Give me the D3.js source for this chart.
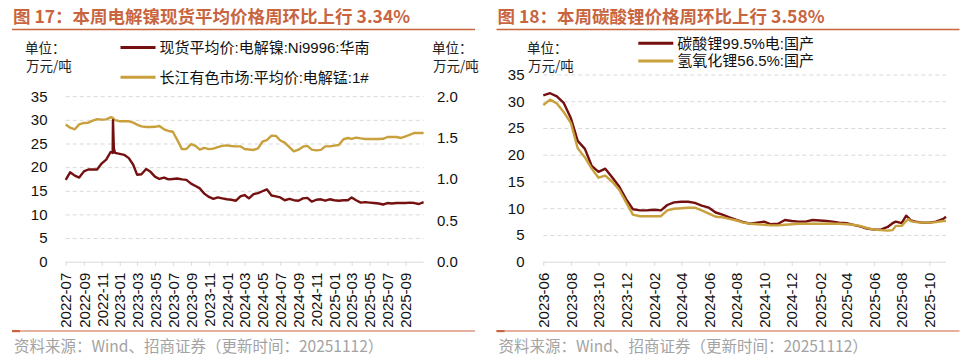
<!DOCTYPE html>
<html>
<head>
<meta charset="utf-8">
<script src="https://cdn.jsdelivr.net/npm/d3@7"></script>
<style>
  body { margin: 0; background: #fff; }
  svg text { font-family: "Liberation Sans", Arial, "Noto Sans CJK SC", sans-serif; }
  svg .cjk { font-family: "Noto Sans CJK SC", "Liberation Sans", sans-serif; }
</style>
</head>
<body>
<svg id="chart" width="970" height="363"></svg>
<script>
// ---- figure 17: nickel (left axis) and manganese (right axis)
const niDates = [
  "2022-07-01","2022-07-16","2022-08-01","2022-08-16","2022-09-01","2022-09-16","2022-10-01","2022-10-16",
  "2022-11-01","2022-11-16","2022-12-01","2022-12-08","2022-12-09","2022-12-12","2022-12-16",
  "2023-01-01","2023-01-16","2023-02-01","2023-02-16","2023-03-01","2023-03-16","2023-04-01","2023-04-16",
  "2023-05-01","2023-05-16","2023-06-01","2023-06-16","2023-07-01","2023-07-16","2023-08-01","2023-08-16",
  "2023-09-01","2023-09-16","2023-10-01","2023-10-16","2023-11-01","2023-11-16","2023-12-01","2023-12-16",
  "2024-01-01","2024-01-16","2024-02-01","2024-02-16","2024-03-01","2024-03-16","2024-04-01","2024-04-16",
  "2024-05-01","2024-05-16","2024-06-01","2024-06-16","2024-07-01","2024-07-16","2024-08-01","2024-08-16",
  "2024-09-01","2024-09-16","2024-10-01","2024-10-16","2024-11-01","2024-11-16","2024-12-01","2024-12-16",
  "2025-01-01","2025-01-16","2025-02-01","2025-02-16","2025-03-01","2025-03-16","2025-04-01","2025-04-16",
  "2025-05-01","2025-05-16","2025-06-01","2025-06-16","2025-07-01","2025-07-16","2025-08-01","2025-08-16",
  "2025-09-01","2025-09-16","2025-10-01","2025-10-16","2025-11-01"
]
const niValues = [
  17.3, 18.9, 18.2, 17.8, 19.1, 19.5, 19.5, 19.5, 20.8, 21.6, 23.2, 23.0, 29.9, 24.0, 23.0,
  22.8, 22.6, 21.9, 20.5, 18.4, 18.5, 19.6, 19.0, 18.0, 17.5, 17.8, 17.4, 17.5, 17.6, 17.4, 17.3,
  16.5, 16.0, 15.5, 14.4, 13.7, 13.3, 13.6, 13.4, 13.2, 13.1, 12.9, 13.8, 14.1, 13.4, 14.3, 14.5,
  14.9, 15.3, 14.0, 13.8, 13.6, 13.0, 13.3, 13.0, 12.9, 13.4, 13.5, 12.7, 13.1, 13.2, 12.9, 13.2,
  13.0, 12.9, 13.0, 13.0, 13.6, 13.0, 12.5, 12.6, 12.5, 12.4, 12.3, 12.1, 12.4, 12.3, 12.4, 12.4,
  12.4, 12.5, 12.4, 12.2, 12.6
]
const mnValues = [
  1.657, 1.620, 1.600, 1.660, 1.677, 1.680, 1.705, 1.722, 1.717, 1.720, 1.745, 1.740, 1.735, 1.725, 1.710,
  1.697, 1.697, 1.697, 1.680, 1.657, 1.636, 1.628, 1.628, 1.630, 1.640, 1.600, 1.580, 1.570, 1.470, 1.360, 1.362,
  1.420, 1.400, 1.354, 1.375, 1.360, 1.366, 1.385, 1.400, 1.406, 1.398, 1.394, 1.394, 1.362, 1.356, 1.350, 1.370,
  1.450, 1.470, 1.523, 1.520, 1.465, 1.440, 1.385, 1.333, 1.354, 1.390, 1.400, 1.354, 1.345, 1.352, 1.394, 1.394,
  1.402, 1.410, 1.480, 1.495, 1.485, 1.500, 1.490, 1.483, 1.483, 1.483, 1.483, 1.485, 1.507, 1.507, 1.507, 1.495,
  1.515, 1.535, 1.556, 1.556, 1.556
]
const niTicks = ["2022-07","2022-09","2022-11","2023-01","2023-03","2023-05","2023-07","2023-09","2023-11",
  "2024-01","2024-03","2024-05","2024-07","2024-09","2024-11","2025-01","2025-03","2025-05","2025-07","2025-09"]

// ---- figure 18: lithium carbonate and lithium hydroxide
const liDates = [
  "2023-06-01","2023-06-16","2023-07-01","2023-07-16","2023-08-01","2023-08-16","2023-09-01","2023-09-16",
  "2023-10-01","2023-10-16","2023-11-01","2023-11-16","2023-12-01","2023-12-16","2024-01-01","2024-01-16",
  "2024-02-01","2024-02-16","2024-03-01","2024-03-16","2024-04-01","2024-04-16","2024-05-01","2024-05-16",
  "2024-06-01","2024-06-16","2024-07-01","2024-07-16","2024-08-01","2024-08-16","2024-09-01","2024-09-16",
  "2024-10-01","2024-10-16","2024-11-01","2024-11-16","2024-12-01","2024-12-16","2025-01-01","2025-01-16",
  "2025-02-01","2025-02-16","2025-03-01","2025-03-16","2025-04-01","2025-04-16","2025-05-01","2025-05-16",
  "2025-06-01","2025-06-16","2025-07-01","2025-07-12","2025-07-19","2025-08-01","2025-08-11","2025-08-16",
  "2025-08-21","2025-09-01","2025-09-16","2025-10-01","2025-10-16","2025-11-01","2025-11-07"
]
const carbValues = [
  31.1, 31.5, 30.9, 29.7, 26.8, 22.6, 21.1, 17.9, 16.8, 17.4, 15.7, 14.0, 11.7, 9.8, 9.6, 9.6,
  9.7, 9.6, 10.6, 11.1, 11.2, 11.2, 11.0, 10.5, 10.1, 9.2, 8.8, 8.3, 7.8, 7.4, 7.1, 7.3,
  7.5, 7.0, 7.1, 7.8, 7.6, 7.5, 7.5, 7.8, 7.7, 7.6, 7.5, 7.3, 7.2, 6.9, 6.6, 6.2,
  6.0, 6.0, 6.5, 7.2, 7.5, 7.2, 8.6, 8.2, 7.7, 7.5, 7.3, 7.3, 7.5, 8.0, 8.4
]
const hydroValues = [
  29.3, 30.3, 29.6, 28.0, 25.9, 21.2, 19.5, 17.4, 15.7, 16.1, 14.9, 13.4, 11.1, 8.8, 8.5, 8.5,
  8.5, 8.5, 9.6, 9.9, 10.0, 10.1, 10.1, 9.6, 9.0, 8.4, 8.3, 8.0, 7.7, 7.3, 7.1, 7.0,
  6.9, 6.8, 6.8, 6.9, 7.0, 7.1, 7.1, 7.1, 7.1, 7.1, 7.1, 7.1, 7.0, 6.9, 6.7, 6.3,
  6.0, 5.9, 5.8, 5.9, 6.7, 6.7, 7.6, 7.95, 7.6, 7.4, 7.3, 7.3, 7.4, 7.6, 7.6
]
const liTicks = ["2023-06","2023-08","2023-10","2023-12","2024-02","2024-04","2024-06","2024-08",
  "2024-10","2024-12","2025-02","2025-04","2025-06","2025-08","2025-10"]

const leftTicks = [0, 5, 10, 15, 20, 25, 30, 35]
const mnTicks = [0, 0.5, 1.0, 1.5, 2.0]

const RED = "#74100f", GOLD = "#c8a03c", ACCENT = "#c8653f", GRID = "#d9d9d9"
const BASE = 261.7

const parseDay = d3.timeParse("%Y-%m-%d")
const parseMonth = d3.timeParse("%Y-%m")
const svg = d3.select("#chart")

function series(dates, values) {
  return dates.map((d, i) => ({ date: parseDay(d), v: values[i] }))
}

function drawFrame(ox, title) {
  svg.append("text")
    .attr("class", "cjk")
    .attr("x", ox).attr("y", 23)
    .attr("fill", ACCENT)
    .style("font-size", "17.5px").style("font-weight", "bold")
    .text(title)
  svg.append("line").attr("x1", ox - 1).attr("x2", ox + 462).attr("y1", 29.5).attr("y2", 29.5)
    .attr("stroke", ACCENT).attr("stroke-width", 1.3)
  svg.append("line").attr("x1", ox - 1).attr("x2", ox + 462).attr("y1", 331).attr("y2", 331)
    .attr("stroke", ACCENT).attr("stroke-width", 1.2)
  svg.append("rect").attr("x", ox - 1).attr("y", 330).attr("width", 8).attr("height", 2.2).attr("fill", ACCENT)
  svg.append("text")
    .attr("class", "cjk")
    .attr("x", ox + 1).attr("y", 347).attr("dy", "0.35em")
    .attr("fill", "#a3a3a3")
    .style("font-size", "15.5px")
    .text("资料来源：Wind、招商证券（更新时间：20251112）")
}

function unitLabel(x, y) {
  svg.append("text").attr("class", "cjk").attr("x", x).attr("y", y).attr("dy", "0.35em")
    .style("font-size", "13.5px").attr("fill", "#222").text("单位：")
  svg.append("text").attr("class", "cjk").attr("x", x + 1).attr("y", y + 18).attr("dy", "0.35em")
    .style("font-size", "13.5px").attr("fill", "#222").text("万元/吨")
}

function legendItem(x, y, color, label) {
  svg.append("line").attr("x1", x).attr("x2", x + 35).attr("y1", y).attr("y2", y)
    .attr("stroke", color).attr("stroke-width", 3)
  svg.append("text").attr("x", x + 39).attr("y", y).attr("dy", "0.35em")
    .style("font-size", "15px").attr("fill", "#111").text(label)
}

function gridAndAxes(x, y, left, right, ticks, labelRight) {
  const grid = svg.append("g").attr("transform", `translate(${left},0)`)
    .call(d3.axisLeft(y).tickValues(leftTicks.slice(1)).tickSize(-(right - left)).tickFormat(""))
  grid.select(".domain").remove()
  grid.selectAll(".tick line").attr("stroke", GRID).attr("stroke-dasharray", "4,3")

  const yAxis = svg.append("g").attr("transform", `translate(${left},0)`)
    .call(d3.axisLeft(y).tickValues(leftTicks).tickSize(0).tickPadding(left - labelRight))
  yAxis.select(".domain").remove()
  yAxis.selectAll("text").style("font-size", "15px").attr("fill", "#111")

  const xAxis = svg.append("g").attr("transform", `translate(0,${BASE})`)
    .call(d3.axisBottom(x).tickValues(ticks.map(parseMonth)).tickSize(4).tickFormat(d3.timeFormat("%Y-%m")))
  xAxis.select(".domain").attr("d", `M${left},0.5H${right}`).attr("stroke", GRID)
  xAxis.selectAll(".tick line").attr("stroke", GRID)
  xAxis.selectAll("text")
    .attr("transform", "rotate(-90)")
    .attr("x", -11).attr("y", 0).attr("dy", "0.35em")
    .style("text-anchor", "end").style("font-size", "15px").attr("fill", "#111")
}

function drawLine(data, x, y, color) {
  svg.append("path")
    .datum(data)
    .attr("fill", "none")
    .attr("stroke", color)
    .attr("stroke-width", 2.4)
    .attr("stroke-linejoin", "round")
    .attr("d", d3.line().x(d => x(d.date)).y(d => y(d.v)))
}

// ---------- left panel
{
  const left = 65.7, right = 423.6
  const x = d3.scaleTime().domain([parseDay("2022-07-01"), parseDay("2025-11-01")]).range([left, right])
  const y = d3.scaleLinear().domain([0, 35]).range([BASE, 96.2])
  const y2 = d3.scaleLinear().domain([0, 2]).range([BASE, 96.2])

  drawFrame(13, "图 17：本周电解镍现货平均价格周环比上行 3.34%")
  unitLabel(25, 48)
  unitLabel(432, 48)
  legendItem(120.5, 47.5, RED, "现货平均价:电解镍:Ni9996:华南")
  legendItem(120.5, 77.3, GOLD, "长江有色市场:平均价:电解锰:1#")
  gridAndAxes(x, y, left, right, niTicks, 47.5)

  const y2Axis = svg.append("g").attr("transform", `translate(${right},0)`)
    .call(d3.axisRight(y2).tickValues(mnTicks).tickSize(0).tickPadding(437 - right).tickFormat(d3.format(".1f")))
  y2Axis.select(".domain").remove()
  y2Axis.selectAll("text").style("font-size", "15px").attr("fill", "#111")

  drawLine(series(niDates, mnValues), x, y2, GOLD)
  drawLine(series(niDates, niValues), x, y, RED)
}

// ---------- right panel
{
  const left = 543.3, right = 946
  const x = d3.scaleTime().domain([parseDay("2023-06-01"), parseDay("2025-11-07")]).range([left, right])
  const y = d3.scaleLinear().domain([0, 35]).range([BASE, 74.5])

  drawFrame(497.5, "图 18：本周碳酸锂价格周环比上行 3.58%")
  unitLabel(527, 48)
  legendItem(638.3, 43.3, RED, "碳酸锂99.5%电:国产")
  legendItem(638.3, 61, GOLD, "氢氧化锂56.5%:国产")
  gridAndAxes(x, y, left, right, liTicks, 524.5)

  drawLine(series(liDates, carbValues), x, y, RED)
  drawLine(series(liDates, hydroValues), x, y, GOLD)
}
</script>
</body>
</html>
